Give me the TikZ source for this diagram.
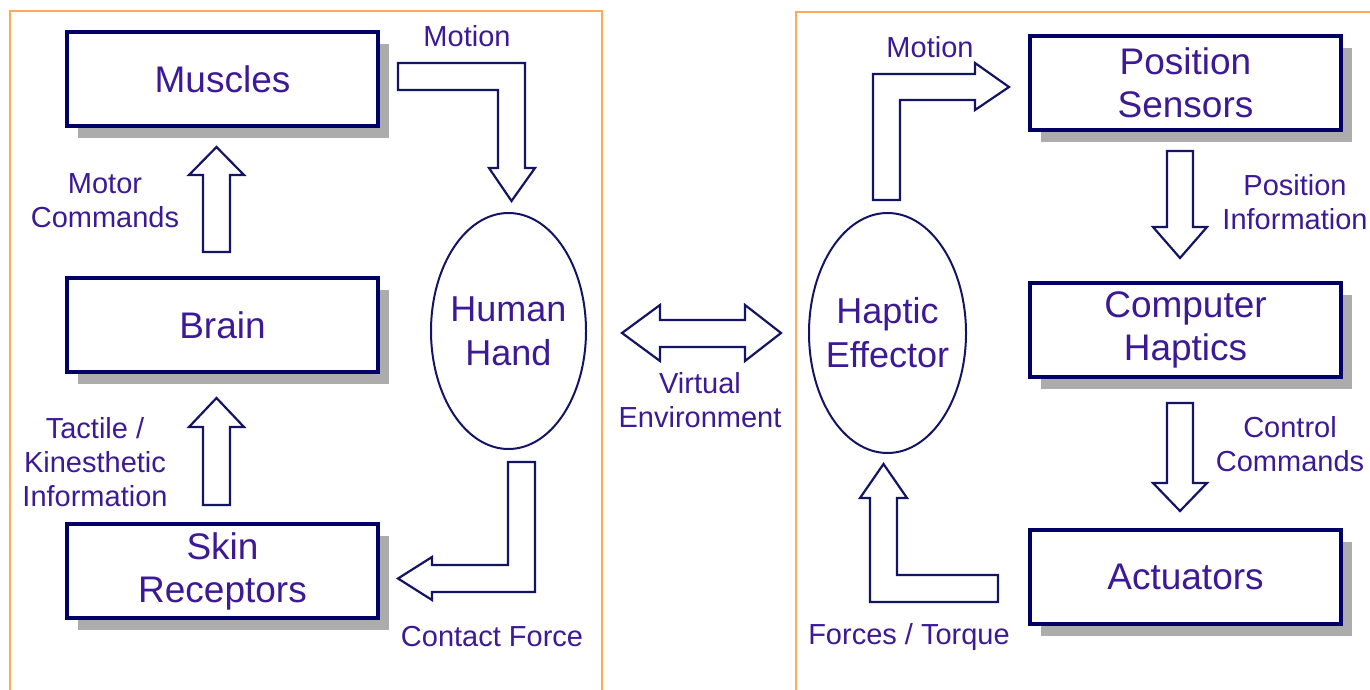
\documentclass[tikz,border=0pt]{standalone}
\usepackage{fontspec}
\setmainfont{Liberation Sans}
\usetikzlibrary{shapes.geometric, shadows}

\definecolor{boxnavy}{RGB}{0,0,102}
\definecolor{inktext}{RGB}{60,25,150}
\definecolor{arrownavy}{RGB}{20,20,100}
\definecolor{panelorange}{RGB}{255,170,90}

\tikzset{
	organ/.style={draw=boxnavy, line width=2pt, fill=white, minimum width=155.5pt, minimum height=47pt,
		align=center, text=inktext, font=\fontsize{18.5}{21.5}\selectfont, inner sep=0,
		drop shadow={shadow xshift=5.5pt, shadow yshift=-6pt, fill=gray!65, opacity=1}},
	effector/.style={ellipse, draw=arrownavy, line width=1pt, minimum width=77.5pt, minimum height=118pt,
		inner sep=0, label={[text=inktext, font=\fontsize{18}{22}\selectfont, align=center]center:#1}},
	lbl/.style={text=inktext, font=\fontsize{14.5}{17}\selectfont, align=center, inner sep=0},
	blockarrow/.style={draw=arrownavy, line width=1.1pt, fill=white, line join=miter},
	panel/.style={draw=panelorange, line width=1pt}
}

\begin{document}
\begin{tikzpicture}[x=0.5pt, y=-0.5pt]
	\useasboundingbox (0,0) rectangle (1370,690);
	
	% Две рамки
	\draw[panel] (10,690) -- (10,11) -- (602,11) -- (602,690);
	\draw[panel] (796,690) -- (796,12) -- (1370,12);
	
	% Человек
	\node[organ] (muscles) at (222.5,79) {Muscles};
	\node[organ] (brain) at (222.5,325) {Brain};
	\node[organ] (skin) at (222.5,571) {Skin\\Receptors};
	\node[effector={Human\\Hand}] (hand) at (508.5,331) {};
	
	% Машина
	\node[effector={Haptic\\Effector}, minimum width=78.5pt, minimum height=120pt] (haptic) at (887.5,333) {};
	\node[organ] (sensors) at (1185.5,83) {Position\\Sensors};
	\node[organ] (computer) at (1185.5,329.5) {Computer\\Haptics};
	\node[organ] (actuators) at (1185.5,576.5) {Actuators};
	
	% Стрелки слева
	\draw[blockarrow] (203,252) -- (203,175) -- (189,175) -- (216.5,147) -- (244,175) -- (230,175) -- (230,252) -- cycle;
	\draw[blockarrow] (203,505) -- (203,427) -- (189,427) -- (216.5,398) -- (244,427) -- (230,427) -- (230,505) -- cycle;
	\draw[blockarrow] (398,63) -- (525,63) -- (525,168) -- (535,168) -- (511.5,201) -- (489,168) -- (498,168) -- (498,90) -- (398,90) -- cycle;
	\draw[blockarrow] (508,462) -- (535,462) -- (535,592) -- (432,592) -- (432,600) -- (398,578.5) -- (432,557) -- (432,565) -- (508,565) -- cycle;
	
	% Двойная стрелка посередине
	\draw[blockarrow] (622,333) -- (660,305) -- (660,320) -- (745,320) -- (745,305) -- (781,333) -- (745,361) -- (745,347) -- (660,347) -- (660,361) -- cycle;
	
	% Стрелки справа
	\draw[blockarrow] (873,200) -- (873,74) -- (975,74) -- (975,63) -- (1009,87) -- (975,110) -- (975,100) -- (900,100) -- (900,200) -- cycle;
	\draw[blockarrow] (1167,151) -- (1193,151) -- (1193,227) -- (1207,227) -- (1180,258) -- (1153,227) -- (1167,227) -- cycle;
	\draw[blockarrow] (1167,403) -- (1193,403) -- (1193,483) -- (1207,483) -- (1180,511) -- (1153,483) -- (1167,483) -- cycle;
	\draw[blockarrow] (870,602) -- (870,498) -- (860,498) -- (883.5,464) -- (907,498) -- (897,498) -- (897,575) -- (998,575) -- (998,602) -- cycle;
	
	% Подписи
	\node[lbl] (motionL) at (467,36) {Motion};
	\node[lbl] (motor) at (105,201) {Motor\\Commands};
	\node[lbl] (tactile) at (95,462) {Tactile /\\Kinesthetic\\Information};
	\node[lbl] (contact) at (492,637) {Contact Force};
	\node[lbl] (virtual) at (700,400) {Virtual\\Environment};
	\node[lbl] (motionR) at (930,47) {Motion};
	\node[lbl] (posinfo) at (1295,202) {Position\\Information};
	\node[lbl] (control) at (1290,444) {Control\\Commands};
	\node[lbl] (forces) at (909,637) {Forces / Torque};
\end{tikzpicture}
\end{document}
